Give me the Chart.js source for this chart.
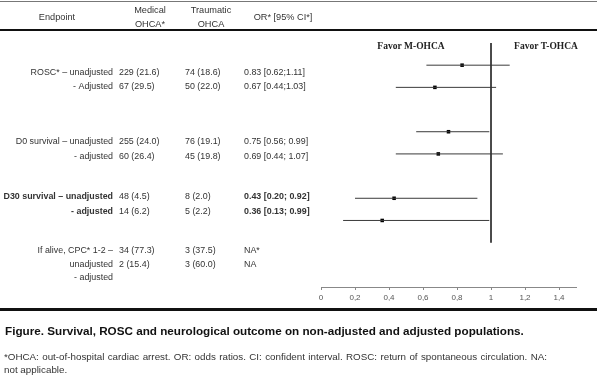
<!DOCTYPE html>
<html>
<head>
<meta charset="utf-8">
<script src="https://cdn.jsdelivr.net/npm/chart.js@4/dist/chart.umd.min.js"></script>
<style>
  html, body { margin: 0; padding: 0; background: #fff; }
  #wrap { width: 597px; height: 384px; position: relative; }
</style>
</head>
<body>
<div id="wrap"><canvas id="forest" width="597" height="384"></canvas></div>
<script>
// table rows
const endpoints = ['ROSC* \u2013 unadjusted', '- Adjusted', 'D0 survival \u2013 unadjusted', '- adjusted',
  'D30 survival \u2013 unadjusted', '- adjusted', 'If alive, CPC* 1-2 \u2013', 'unadjusted', '- adjusted'];
const medical   = ['229 (21.6)', '67 (29.5)', '255 (24.0)', '60 (26.4)', '48 (4.5)', '14 (6.2)', '34 (77.3)', '2 (15.4)', ''];
const traumatic = ['74 (18.6)', '50 (22.0)', '76 (19.1)', '45 (19.8)', '8 (2.0)', '5 (2.2)', '3 (37.5)', '3 (60.0)', ''];
const orText    = ['0.83 [0.62;1.11]', '0.67 [0.44;1.03]', '0.75 [0.56; 0.99]', '0.69 [0.44; 1.07]',
  '0.43 [0.20; 0.92]', '0.36 [0.13; 0.99]', 'NA*', 'NA', ''];
const boldRows  = [false, false, false, false, true, true, false, false, false];
const textY     = [73, 87, 142, 157, 197, 212, 251, 265, 278];

// forest values
const oddsRatio = [0.83, 0.67, 0.75, 0.69, 0.43, 0.36];
const ciLow     = [0.62, 0.44, 0.56, 0.44, 0.20, 0.13];
const ciHigh    = [1.11, 1.03, 0.99, 1.07, 0.92, 0.99];
const rowPos    = [0, 1, 3, 4, 6, 7];
const refLine   = [{x: 1, y: -1}, {x: 1, y: 8}];
const xTicks    = [0, 0.2, 0.4, 0.6, 0.8, 1, 1.2, 1.4];

const ciSets = oddsRatio.map((v, i) => ({
  type: 'line',
  data: [{x: ciLow[i], y: rowPos[i]}, {x: ciHigh[i], y: rowPos[i]}],
  borderColor: '#3a3a3a', borderWidth: 1, pointRadius: 0
}));

const SANS = '"Liberation Sans", Arial, sans-serif';

const tablePlugin = {
  id: 'tablePlugin',
  afterDraw(chart) {
    const c = chart.ctx;
    c.save();
    // rules
    c.fillStyle = '#777';
    c.fillRect(0, 1, 597, 1);
    c.fillStyle = '#111';
    c.fillRect(0, 29, 597, 2);
    c.fillRect(0, 308, 597, 3);

    // header
    c.fillStyle = '#333';
    c.font = '9.2px ' + SANS;
    c.textBaseline = 'middle';
    c.textAlign = 'center';
    c.fillText('Endpoint', 57, 17);
    c.fillText('Medical', 150, 10);
    c.fillText('OHCA*', 150, 24);
    c.fillText('Traumatic', 211, 10);
    c.fillText('OHCA', 211, 24);
    c.fillText('OR* [95% CI*]', 283, 17);

    // rows
    endpoints.forEach((e, i) => {
      const bold = boldRows[i] ? 'bold ' : '';
      c.font = bold + '8.9px ' + SANS;
      c.textAlign = 'right';
      c.fillText(e, 113, textY[i]);
      c.font = '8.9px ' + SANS;
      c.textAlign = 'left';
      c.fillText(medical[i], 119, textY[i]);
      c.fillText(traumatic[i], 185, textY[i]);
      c.font = bold + '8.9px ' + SANS;
      c.fillText(orText[i], 244, textY[i]);
    });

    // favor labels
    c.fillStyle = '#222';
    c.font = 'bold 9.5px "Liberation Serif", "Times New Roman", serif';
    c.textAlign = 'center';
    c.fillText('Favor M-OHCA', 411, 47);
    c.fillText('Favor T-OHCA', 546, 47);

    // caption
    c.fillStyle = '#111';
    c.textAlign = 'left';
    c.font = 'bold 11.7px ' + SANS;
    c.fillText('Figure. Survival, ROSC and neurological outcome on non-adjusted and adjusted populations.', 5, 332);

    // footnote, first line justified
    c.fillStyle = '#333';
    c.font = '9.8px ' + SANS;
    const words = '*OHCA: out-of-hospital cardiac arrest. OR: odds ratios. CI: confident interval. ROSC: return of spontaneous circulation. NA:'.split(' ');
    const total = words.reduce((a, w) => a + c.measureText(w).width, 0);
    const gap = Math.max(2.5, (547 - 4 - total) / (words.length - 1));
    let x = 4;
    words.forEach(w => { c.fillText(w, x, 357); x += c.measureText(w).width + gap; });
    c.fillText('not applicable.', 4, 370);
    c.restore();
  }
};

new Chart(document.getElementById('forest'), {
  type: 'scatter',
  data: {
    datasets: [
      { type: 'line', data: refLine, borderColor: '#333', borderWidth: 1, pointRadius: 0 },
      ...ciSets,
      {
        data: oddsRatio.map((v, i) => ({x: v, y: rowPos[i]})),
        pointStyle: 'rect', pointRadius: 2.5, backgroundColor: '#000', borderColor: '#000', borderWidth: 0
      }
    ]
  },
  options: {
    responsive: false,
    animation: false,
    events: [],
    layout: { padding: { left: 321, right: 21, top: 43, bottom: 77 } },
    plugins: { legend: { display: false }, tooltip: { enabled: false } },
    scales: {
      x: {
        type: 'linear', min: 0, max: 1.5,
        afterBuildTicks: s => { s.ticks = xTicks.map(v => ({value: v})); },
        afterFit: s => { s.height = 20; },
        grid: { drawOnChartArea: false, tickLength: 3, color: '#888' },
        border: { color: '#888' },
        ticks: {
          color: '#555', padding: 3,
          font: { family: SANS, size: 8 },
          callback: v => String(v).replace('.', ',')
        }
      },
      y: {
        type: 'linear', min: -1, max: 10, reverse: true, display: false
      }
    }
  },
  plugins: [tablePlugin]
});
</script>
</body>
</html>
